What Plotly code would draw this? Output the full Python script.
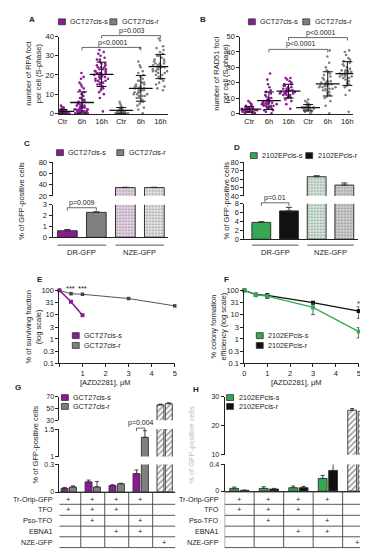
import numpy as np
import plotly.graph_objects as go

W, H = 368, 550
PURPLE = '#8b1a94'
GREY = '#808080'
GREEN = '#35a853'
BLACK = '#111111'
DARK = '#222222'
FONT = 'Liberation Sans, Arial, sans-serif'

# ---------------- data ----------------
dot_cats = ['Ctr', '6h', '16h', 'Ctr', '6h', '16h']
A_s_ctr = [0,0,0,0,1,1,1,1,1,1,2,2,2,0,0,1,1,3,4,0,1,2,1,0,1,1,2,3,0,1,0,1,2,1,0,1,0,2,1,1]
A_s_6h = [0,0,0,1,1,1,1,2,2,2,2,3,3,3,3,4,4,4,5,5,5,6,6,7,7,8,8,9,10,11,12,13,14,15,16,18,19,21,0,1,2,3,4,2,1,0,1]
A_s_16h = [1,8,10,11,12,13,13,14,15,15,16,16,17,17,18,18,18,19,19,20,20,20,21,21,21,22,22,22,23,23,24,24,25,25,26,26,27,28,28,29,30,31,32,33,20,19,21,17,23,24]
A_r_ctr = [0,0,0,0,0,1,1,1,1,1,1,2,2,2,2,3,3,4,5,6,0,1,2,1,0,1,3,2,1,0]
A_r_6h = [0,2,3,4,5,6,6,7,8,8,9,9,10,10,10,11,11,12,12,12,13,13,13,14,14,15,15,16,16,17,17,18,19,20,21,22,24,25,27,34,11,12,13,9,14]
A_r_16h = [12,13,14,15,16,17,18,18,19,20,20,21,21,22,22,23,23,24,24,24,25,25,26,26,27,27,28,28,29,30,30,31,32,33,34,35,38,39,23,25,22,26,24]
A_vals = [A_s_ctr, A_s_6h, A_s_16h, A_r_ctr, A_r_6h, A_r_16h]

B_s_ctr = [0,0,1,1,1,1,2,2,2,2,2,3,3,3,3,3,4,4,4,5,5,6,7,8,1,2,3,2,1,0,2,3,4,2,3]
B_s_6h = [0,1,2,2,3,3,4,4,5,5,5,6,6,6,7,7,7,8,8,9,9,10,10,11,12,13,14,15,17,19,22,26,6,7,8,5,4]
B_s_16h = [3,6,8,9,10,10,11,11,12,12,13,13,13,14,14,14,15,15,15,16,16,17,17,18,18,19,19,20,21,22,23,23,14,13,15,12,16]
B_r_ctr = [0,1,1,2,2,2,3,3,3,3,4,4,4,4,5,5,6,7,8,9,3,4,2,3,5]
B_r_6h = [0,5,8,10,11,12,13,14,15,15,16,16,17,17,18,18,18,19,19,20,20,21,21,22,23,24,25,26,27,28,30,33,37,41,17,18,19,16,20]
B_r_16h = [1,12,15,17,18,19,20,21,22,23,23,24,24,25,25,26,26,27,27,28,28,29,30,31,32,33,34,35,36,38,40,41,26,25,27,24,28]
B_vals = [B_s_ctr, B_s_6h, B_s_16h, B_r_ctr, B_r_6h, B_r_16h]

gfp_groups = ['DR-GFP', 'NZE-GFP']
C_s = [0.6, 35.0]; C_s_err = [0.12, 0.6]
C_r = [2.3, 35.0]; C_r_err = [0.05, 0.6]
D_s = [3.8, 63.0]; D_s_err = [0.15, 1.2]
D_r = [6.4, 53.0]; D_r_err = [0.8, 2.5]

E_dose_s = [0, 0.5, 1]
E_s = [100, 34, 9.5]
E_dose_r = [0, 0.5, 1, 3, 5]
E_r = [100, 73, 69, 46, 23]

F_dose = [0, 0.5, 1, 3, 5]
F_s = [100, 65, 58, 20, 2]
F_s_err = [0, 10, 12, 10, 0.9]
F_r = [100, 67, 62, 31, 14]
F_r_err = [0, 8, 12, 3, 7]

G_s = [0.04, 0.11, 0.07, 0.20, 56]
G_s_err = [0.01, 0.02, 0.01, 0.04, 1.2]
G_r = [0.055, 0.055, 0.09, 1.35, 58]
G_r_err = [0.012, 0.06, 0.005, 0.12, 1.5]

H_s = [0.04, 0.04, 0.05, 0.19, 25.3]
H_s_err = [0.02, 0.025, 0.025, 0.045, 0.6]
H_r = [0.01, 0.03, 0.05, 0.31, 24.9]
H_r_err = [0.005, 0.01, 0.02, 0.11, 1.4]

table_rows = ['Tr-Orip-GFP', 'TFO', 'Pso-TFO', 'EBNA1', 'NZE-GFP']
table_marks = [[1, 1, 1, 1, 0],
               [1, 1, 1, 0, 0],
               [0, 1, 0, 1, 0],
               [0, 0, 1, 1, 0],
               [0, 0, 0, 0, 1]]

# ---------------- helpers ----------------
fig = go.Figure()
layout = {}
shapes = []
annots = []
cnt = [0]

AX = dict(showline=True, linecolor=DARK, linewidth=1, ticks='outside', ticklen=3,
          tickwidth=1, tickcolor=DARK, showgrid=False, zeroline=False,
          tickfont=dict(size=7.5, color=DARK, family=FONT), fixedrange=True)


def axes(x0, x1, y0, y1, xkw, ykw):
    cnt[0] += 1
    k = cnt[0]
    s = '' if k == 1 else str(k)
    xk = dict(AX); xk.update(xkw)
    yk = dict(AX); yk.update(ykw)
    layout['xaxis' + s] = dict(domain=[x0 / W, x1 / W], anchor='y' + s, **xk)
    layout['yaxis' + s] = dict(domain=[1 - y1 / H, 1 - y0 / H], anchor='x' + s, **yk)
    return 'x' + s, 'y' + s


def py(p):
    return 1 - p / H


def px(p):
    return p / W


def text(x, y, t, size=7.5, xanchor='center', yanchor='middle', angle=0, bold=False,
         xref='paper', color=DARK):
    if bold:
        t = '<b>' + t + '</b>'
    annots.append(dict(x=x if xref != 'paper' else px(x), y=py(y), xref=xref, yref='paper',
                       text=t, showarrow=False, xanchor=xanchor, yanchor=yanchor,
                       textangle=angle, font=dict(size=size, color=color, family=FONT)))


def legsq(x, y, color):
    shapes.append(dict(type='rect', xref='paper', yref='paper', x0=px(x), x1=px(x + 7),
                       y0=py(y + 3), y1=py(y - 3), fillcolor=color,
                       line=dict(color='#333', width=0.8)))


def bracket(xref, xa, xb, ytop, drop=3):
    shapes.append(dict(type='path', xref=xref, yref='paper',
                       path=f'M {xa},{py(ytop + drop)} L {xa},{py(ytop)} L {xb},{py(ytop)} L {xb},{py(ytop + drop)}',
                       line=dict(color='#444', width=0.8)))


def hline(xref, xa, xb, y, color='#444', w=0.8):
    shapes.append(dict(type='line', xref=xref, yref='paper', x0=xa, x1=xb, y0=py(y), y1=py(y),
                       line=dict(color=color, width=w)))


def vline(xref, x, ya, yb, color='#444', w=0.8):
    shapes.append(dict(type='line', xref=xref, yref='paper', x0=x, x1=x, y0=py(ya), y1=py(yb),
                       line=dict(color=color, width=w)))


# ---------------- A & B dot plots ----------------
def dotpanel(x0, x1, xrange, yrange, ytick, vals, col_s, col_r):
    xa, ya = axes(x0, x1, 25, 104,
                  dict(range=xrange, tickvals=list(range(6)), ticktext=dot_cats, ticks=''),
                  dict(range=yrange, tickvals=ytick))
    for i, v in enumerate(vals):
        col = col_s if i < 3 else col_r
        fig.add_trace(go.Box(x=[i] * len(v), y=v, xaxis=xa, yaxis=ya, boxpoints='all',
                             jitter=1.0, pointpos=0, width=0.9,
                             fillcolor='rgba(0,0,0,0)', line=dict(color='rgba(0,0,0,0)', width=0),
                             marker=dict(color=col, size=2.6), showlegend=False, hoverinfo='skip'))
    for i, v in enumerate(vals):
        m = float(np.mean(v)); sd = float(np.std(v))
        fig.add_trace(go.Scatter(x=[i], y=[m], xaxis=xa, yaxis=ya, mode='markers',
                                 marker=dict(symbol='line-ew', size=17, color=BLACK,
                                             line=dict(width=1.3, color=BLACK)),
                                 error_y=dict(type='data', array=[sd], width=5, thickness=1, color=BLACK),
                                 showlegend=False, hoverinfo='skip'))
    return xa, ya


xA, yA = dotpanel(50, 160, [-0.15, 5.4], [-0.5, 40], [0, 10, 20, 30, 40], A_vals, PURPLE, GREY)
xB, yB = dotpanel(233, 347, [-0.45, 5.3], [-0.6, 50], [0, 10, 20, 30, 40, 50], B_vals, PURPLE, GREY)

bracket(xA, 1, 4, 36); text(104, 31.5, 'p<0.0001', size=7)
bracket(xA, 2, 5, 24); text(123, 19.5, 'p=0.003', size=7)
bracket(xB, 1, 4, 38); text(294, 33, 'p<0.0001', size=7)
bracket(xB, 2, 5, 26); text(314, 21, 'p<0.0001', size=7)

text(24, 63, 'number of RPA foci<br>per cell (S-phase)', angle=-90, size=7.5)
text(214, 63, 'number of RAD51 foci<br>per cell (S-phase)', angle=-90, size=7.5)

# ---------------- C & D broken bar charts ----------------
def gfp_panel(x0, x1, xrange, seg_top, seg_bot, s, s_err, r, r_err, col_s, col_r,
              nze_s, nze_r):
    xs = [0, 2]; xr = [1, 3]
    out = []
    for (yt, yb, rng, tv, showx) in [seg_top + (False,), seg_bot + (True,)]:
        xkw = dict(range=xrange, showticklabels=False, ticks='', showline=showx)
        xa, ya = axes(x0, x1, yt, yb, xkw, dict(range=rng, tickvals=tv))
        for xx, vals, errs, col, nze in [(xs, s, s_err, col_s, nze_s), (xr, r, r_err, col_r, nze_r)]:
            fig.add_trace(go.Bar(x=xx, y=vals, xaxis=xa, yaxis=ya, width=0.68,
                                 marker=dict(color=[col, nze[0]],
                                             line=dict(color='#333', width=1),
                                             pattern=dict(shape=['', '.'], fgcolor=nze[1],
                                                          bgcolor=nze[0], size=3, solidity=0.35)),
                                 error_y=dict(type='data', array=errs, arrayminus=[0, 0],
                                              symmetric=False, color='#333', thickness=1, width=3),
                                 showlegend=False, hoverinfo='skip'))
        out.append((xa, ya))
    return out


cax = gfp_panel(43, 160, [-0.51, 3.48], (153, 187, [20, 80], [20, 40, 60, 80]),
                (196, 229, [0, 3], [0, 1, 2, 3]), C_s, C_s_err, C_r, C_r_err, PURPLE, GREY,
                ('#efdcef', '#c99cc9'), ('#ececec', '#bdbdbd'))
dax = gfp_panel(237, 352, [-0.61, 3.5], (153, 187, [40, 80], [40, 50, 60, 70, 80]),
                (195, 231, [0, 8], [0, 2, 4, 6, 8]), D_s, D_s_err, D_r, D_r_err, GREEN, BLACK,
                ('#dcf1e2', '#9fd3ae'), ('#d6d6d6', '#8f8f8f'))

for (xa, _), ylab in [(cax[1], 237), (dax[1], 237)]:
    for g, name in enumerate(gfp_groups):
        hline(xa, 2 * g - 0.34, 2 * g + 1.34, ylab, color='#555', w=1)
        annots.append(dict(x=2 * g + 0.5, y=py(244.5), xref=xa, yref='paper', text=name,
                           showarrow=False, font=dict(size=7.5, color=DARK, family=FONT)))

bracket(cax[1][0], 0, 1, 199); text(73, 194, 'p=0.009', size=7)
bracket(dax[1][0], 0, 1, 194); text(268, 189, 'p=0.01', size=7)

text(12, 192, '% of GFP-positive cells', angle=-90, size=7.5)
text(219, 192, '% of GFP-positive cells', angle=-90, size=7.5)

# ---------------- E & F survival curves ----------------
LOGT = [0.1, 0.3, 1, 3, 10, 31, 100]
LOGL = ['0.1', '0.3', '1', '3', '10', '31', '100']

xE, yE = axes(50, 167, 283, 357,
              dict(range=[0, 5.02], tickvals=[0, 1, 2, 3, 4, 5], ticktext=['', '1', '2', '3', '4', '5']),
              dict(type='log', range=[-1, 2], tickvals=LOGT, ticktext=LOGL))
fig.add_trace(go.Scatter(x=E_dose_r, y=E_r, xaxis=xE, yaxis=yE, mode='lines+markers',
                         line=dict(color='#555', width=1), cliponaxis=False,
                         marker=dict(symbol='square', size=3.5, color='#444'),
                         showlegend=False, hoverinfo='skip'))
fig.add_trace(go.Scatter(x=E_dose_s, y=E_s, xaxis=xE, yaxis=yE, mode='lines+markers',
                         line=dict(color=PURPLE, width=1.6), cliponaxis=False,
                         marker=dict(symbol='square', size=4, color=PURPLE),
                         showlegend=False, hoverinfo='skip'))
annots.append(dict(x=0.5, y=py(281), xref=xE, yref='paper', text='***', showarrow=False,
                   font=dict(size=7.5, color=DARK, family=FONT)))
annots.append(dict(x=1, y=py(281), xref=xE, yref='paper', text='***', showarrow=False,
                   font=dict(size=7.5, color=DARK, family=FONT)))

xF, yF = axes(237, 353, 283, 357,
              dict(range=[0, 5.02], tickvals=[0, 1, 2, 3, 4, 5]),
              dict(type='log', range=[-1, 2], tickvals=LOGT, ticktext=LOGL))
fig.add_trace(go.Scatter(x=F_dose, y=F_r, xaxis=xF, yaxis=yF, mode='lines+markers',
                         line=dict(color=BLACK, width=1.3), cliponaxis=False,
                         marker=dict(symbol='square', size=4, color=BLACK),
                         error_y=dict(type='data', array=F_r_err, color='#333', thickness=0.8, width=2),
                         showlegend=False, hoverinfo='skip'))
fig.add_trace(go.Scatter(x=F_dose, y=F_s, xaxis=xF, yaxis=yF, mode='lines+markers',
                         line=dict(color=GREEN, width=1.3), cliponaxis=False,
                         marker=dict(symbol='square', size=4, color=GREEN),
                         error_y=dict(type='data', array=F_s_err, color='#333', thickness=0.8, width=2),
                         showlegend=False, hoverinfo='skip'))
annots.append(dict(x=5, y=py(296), xref=xF, yref='paper', text='*', showarrow=False,
                   font=dict(size=7.5, color=DARK, family=FONT)))

text(24, 320, '% of surviving fraction<br>(log scale)', angle=-90, size=7.5)
text(211, 320, '% colony formation<br>efficiency (log scale)', angle=-90, size=7.5)
text(97, 376.5, '[AZD2281], μM', size=7.5)
text(290, 376.5, '[AZD2281], μM', size=7.5)

# ---------------- G & H broken bar charts with tables ----------------
def tfo_panel(x0, x1, xrange, segs, s, s_err, r, r_err, col_s, col_r, bw, off):
    out = []
    n = len(s)
    for i, (yt, yb, rng, tv) in enumerate(segs):
        last = i == len(segs) - 1
        xa, ya = axes(x0, x1, yt, yb,
                      dict(range=xrange, showticklabels=False, ticks='', showline=last),
                      dict(range=rng, tickvals=tv, tickfont=dict(size=7, color=DARK, family=FONT)))
        for vals, errs, col, o in [(s, s_err, col_s, -off), (r, r_err, col_r, off)]:
            fig.add_trace(go.Bar(x=list(range(n)), y=vals, xaxis=xa, yaxis=ya, width=bw, offset=o - bw / 2,
                                 marker=dict(color=[col] * (n - 1) + ['white'],
                                             line=dict(color='#333', width=0.9),
                                             pattern=dict(shape=[''] * (n - 1) + ['/'], fgcolor=col,
                                                          bgcolor='white', size=4, solidity=0.45)),
                                 error_y=dict(type='data', array=errs, arrayminus=[0] * n,
                                              symmetric=False, color='#333', thickness=0.9, width=2),
                                 showlegend=False, hoverinfo='skip'))
        out.append((xa, ya))
    return out


gax = tfo_panel(50, 167, [-0.39, 4.44],
                [(391, 415, [30, 70], [30, 50, 70]),
                 (424, 452, [1, 1.5], [1, 1.5]),
                 (460, 488, [0, 0.3], [0, 0.3])],
                G_s, G_s_err, G_r, G_r_err, PURPLE, GREY, 0.29, 0.175)
hax = tfo_panel(217, 367, [-0.5, 4.53],
                [(391, 450, [10, 30], [10, 20, 30]),
                 (460, 487, [0, 0.4], [0, 0.4])],
                H_s, H_s_err, H_r, H_r_err, GREEN, BLACK, 0.3, 0.176)

bracket(gax[1][0], 3 - 0.175, 3 + 0.175, 423); text(132, 418, 'p=0.004', size=7)

row_y = [488, 500.5, 511.7, 522.7, 533.5, 544.5]
for xa, lab_x in [(gax[-1][0], 45), (hax[-1][0], 213)]:
    for yv in row_y:
        hline(xa, -0.5, 4.5, yv, color='#444', w=0.9)
    for c in range(6):
        vline(xa, c - 0.5, row_y[0], row_y[-1], color='#444', w=0.9)
    for ri, name in enumerate(table_rows):
        yc = (row_y[ri] + row_y[ri + 1]) / 2 + (1.5 if ri == 0 else 0)
        text(lab_x, yc, name, size=7.2, xanchor='right')
        for c in range(5):
            if table_marks[ri][c]:
                annots.append(dict(x=c, y=py(yc), xref=xa, yref='paper', text='+', showarrow=False,
                                   xanchor='center', yanchor='middle',
                                   font=dict(size=7.5, color=DARK, family=FONT)))

text(26, 440, '% of GFP-positive cells', angle=-90, size=7.5)
text(184, 440, '% of GFP-positive cells', angle=-90, size=7.5, color='#bbbbbb')

# ---------------- legends ----------------
def legend2(x, y, dx, dy, c1, t1, c2, t2):
    legsq(x, y, c1)
    text(x + 10, y, t1, size=7.2, xanchor='left')
    x2 = x + dx
    legsq(x2, y + dy, c2)
    text(x2 + 10, y + dy, t2, size=7.2, xanchor='left')


legend2(49, 10, 52, 0, PURPLE, 'GCT27cis-s', GREY, 'GCT27cis-r')
legend2(241, 10, 55, 0, PURPLE, 'GCT27cis-s', GREY, 'GCT27cis-r')
legend2(47, 143, 61, 0, PURPLE, 'GCT27cis-s', GREY, 'GCT27cis-r')
legend2(243, 146, 56, 0, GREEN, '2102EPcis-s', BLACK, '2102EPcis-r')
legend2(63, 329, 0, 10, PURPLE, 'GCT27cis-s', GREY, 'GCT27cis-r')
legend2(249, 329, 0, 10, GREEN, '2102EPcis-s', BLACK, '2102EPcis-r')
legend2(52, 392, 0, 9, PURPLE, 'GCT27cis-s', GREY, 'GCT27cis-r')
legend2(219, 392, 0, 9, GREEN, '2102EPcis-s', BLACK, '2102EPcis-r')

# ---------------- panel letters ----------------
for lt, x, y in [('A', 22, 8), ('B', 195, 8), ('C', 17, 134), ('D', 229, 138),
                 ('E', 30, 272), ('F', 219, 272), ('G', 8, 382), ('H', 188, 384)]:
    text(x, y, lt, size=8, bold=True)

layout.update(dict(width=W, height=H, margin=dict(l=0, r=0, t=0, b=0),
                   paper_bgcolor='white', plot_bgcolor='white', showlegend=False,
                   barmode='overlay', boxmode='overlay',
                   font=dict(family=FONT, size=7.5, color=DARK),
                   shapes=shapes, annotations=annots))
fig.update_layout(**layout)
fig.write_html('out.html')
